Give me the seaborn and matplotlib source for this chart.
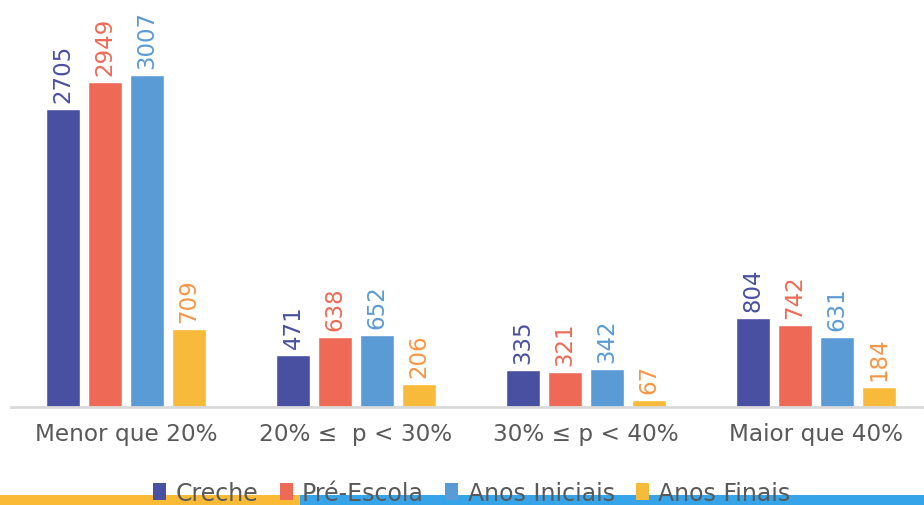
import matplotlib
matplotlib.use("Agg")
import matplotlib.pyplot as plt
import seaborn as sns
import pandas as pd
from matplotlib.patches import Rectangle, Patch

categories = ["Menor que 20%", "20% ≤  p < 30%", "30% ≤ p < 40%", "Maior que 40%"]
series = ["Creche", "Pré-Escola", "Anos Iniciais", "Anos Finais"]
creche = [2705, 471, 335, 804]
pre_escola = [2949, 638, 321, 742]
anos_iniciais = [3007, 652, 342, 631]
anos_finais = [709, 206, 67, 184]

bar_colors = ["#4A50A1", "#EE6A56", "#5B9BD5", "#F8BA3A"]
label_colors = ["#4A50A1", "#EE6A56", "#5B9BD5", "#F79646"]

rows = []
for s, vals in zip(series, [creche, pre_escola, anos_iniciais, anos_finais]):
    for c, v in zip(categories, vals):
        rows.append({"cat": c, "serie": s, "val": v})
df = pd.DataFrame(rows)

sns.set_theme(style="white")
plt.rcParams["font.family"] = ["DejaVu Sans"]

W, H = 924, 506
fig = plt.figure(figsize=(W / 100, H / 100), dpi=100)
ax = fig.add_axes([11 / W, (H - 408) / H, (922 - 11) / W, 408 / H])

sns.barplot(data=df, x="cat", y="val", hue="serie", order=categories,
            hue_order=series, palette=bar_colors, width=0.7304, gap=0.214,
            saturation=1, ax=ax, legend=False)

ax.set_xlim(-0.5, -0.5 + 911 / 230)
ax.set_ylim(0, 408 / 0.1103)
for sp in ["top", "right", "left"]:
    ax.spines[sp].set_visible(False)
ax.spines["bottom"].set_color("#D9D9D9")
ax.spines["bottom"].set_linewidth(2)
ax.set_yticks([])
ax.set_xlabel("")
ax.set_ylabel("")
ax.tick_params(axis="x", length=0, pad=11, labelsize=16.7, labelcolor="#595959")

for cont, col in zip(ax.containers, label_colors):
    ax.bar_label(cont, labels=[f"{int(v)}" for v in cont.datavalues],
                 rotation=90, padding=5, color=col, fontsize=16.5)

fig.add_artist(Rectangle((0, 0), 300 / W, 10 / H, transform=fig.transFigure,
                         facecolor="#FBBA36", edgecolor="none", zorder=1))
fig.add_artist(Rectangle((300 / W, 0), 1 - 300 / W, 10 / H, transform=fig.transFigure,
                         facecolor="#35A4E8", edgecolor="none", zorder=1))

handles = [Patch(facecolor=c, edgecolor="none") for c in bar_colors]
leg = fig.legend(handles, series, loc="center", bbox_to_anchor=(472 / W, 12 / H),
                 ncol=4, frameon=False, fontsize=17, handlelength=0.55,
                 handleheight=0.75, handletextpad=0.4, columnspacing=0.9,
                 borderpad=0, labelcolor="#595959")
leg.set_zorder(5)

fig.savefig("out.png", dpi=100)
